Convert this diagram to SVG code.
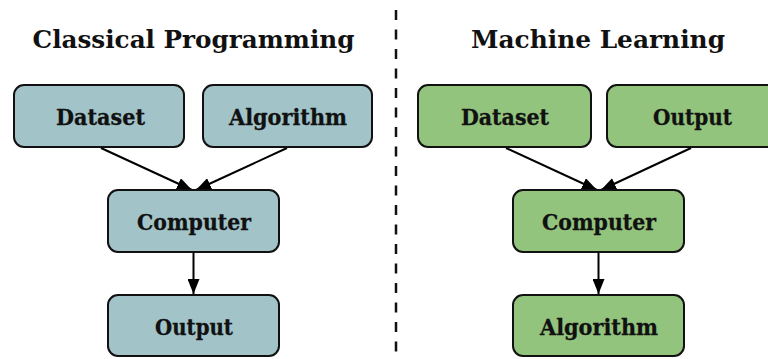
<svg xmlns="http://www.w3.org/2000/svg" width="768" height="359" viewBox="0 0 768 359">
  <defs>
    <marker id="arr" markerUnits="userSpaceOnUse" markerWidth="16" markerHeight="12" refX="15" refY="6" orient="auto">
      <path d="M0,0 L15,6 L0,12 Z" fill="#000"/>
    </marker>
  </defs>
  <style>
    .title { font-family: "DejaVu Serif", "Liberation Serif", serif; font-weight: bold; font-size: 25px; fill: #111; text-anchor: middle; }
    .lbl { font-family: "DejaVu Serif", "Liberation Serif", serif; font-weight: bold; font-size: 22px; fill: #111; stroke: #111; stroke-width: 0.3; text-anchor: middle; }
    .blue { fill: #a2c4c9; stroke: #111; stroke-width: 2; }
    .green { fill: #93c47d; stroke: #111; stroke-width: 2; }
    .conn { stroke: #000; stroke-width: 2; fill: none; marker-end: url(#arr); }
  </style>
  <rect width="768" height="359" fill="#fff"/>
  <text class="title" x="193.5" y="48" textLength="322" lengthAdjust="spacingAndGlyphs">Classical Programming</text>
  <text class="title" x="598" y="48" textLength="254" lengthAdjust="spacingAndGlyphs">Machine Learning</text>
  <line x1="396" y1="10" x2="396" y2="359" stroke="#111" stroke-width="2.5" stroke-dasharray="10 9.5"/>
  <g id="connectors">
    <line class="conn" x1="101" y1="148" x2="192" y2="190"/>
    <line class="conn" x1="287" y1="148" x2="196" y2="190"/>
    <line class="conn" x1="193.5" y1="253" x2="193.5" y2="294"/>
    <line class="conn" x1="506" y1="148" x2="597" y2="190"/>
    <line class="conn" x1="691" y1="148" x2="601" y2="190"/>
    <line class="conn" x1="598.5" y1="253" x2="598.5" y2="294"/>
  </g>
  <g id="cp-dataset"><rect class="blue" x="14" y="85" width="170" height="62" rx="10"/><text class="lbl" x="100.5" y="125" textLength="89" lengthAdjust="spacingAndGlyphs">Dataset</text></g>
  <g id="cp-algorithm"><rect class="blue" x="203" y="85" width="169" height="62" rx="10"/><text class="lbl" x="288" y="125" textLength="118" lengthAdjust="spacingAndGlyphs">Algorithm</text></g>
  <g id="cp-computer"><rect class="blue" x="108" y="190" width="171" height="62" rx="10"/><text class="lbl" x="194" y="230" textLength="114" lengthAdjust="spacingAndGlyphs">Computer</text></g>
  <g id="cp-output"><rect class="blue" x="108" y="295" width="171" height="61" rx="10"/><text class="lbl" x="194" y="335" textLength="78" lengthAdjust="spacingAndGlyphs">Output</text></g>
  <g id="ml-dataset"><rect class="green" x="418" y="85" width="173" height="62" rx="10"/><text class="lbl" x="505" y="125" textLength="88" lengthAdjust="spacingAndGlyphs">Dataset</text></g>
  <g id="ml-output"><rect class="green" x="607" y="85" width="172" height="62" rx="10"/><text class="lbl" x="692.5" y="125" textLength="79" lengthAdjust="spacingAndGlyphs">Output</text></g>
  <g id="ml-computer"><rect class="green" x="513" y="190" width="171" height="62" rx="10"/><text class="lbl" x="599" y="230" textLength="114" lengthAdjust="spacingAndGlyphs">Computer</text></g>
  <g id="ml-algorithm"><rect class="green" x="513" y="295" width="171" height="61" rx="10"/><text class="lbl" x="599" y="335" textLength="118" lengthAdjust="spacingAndGlyphs">Algorithm</text></g>
</svg>
